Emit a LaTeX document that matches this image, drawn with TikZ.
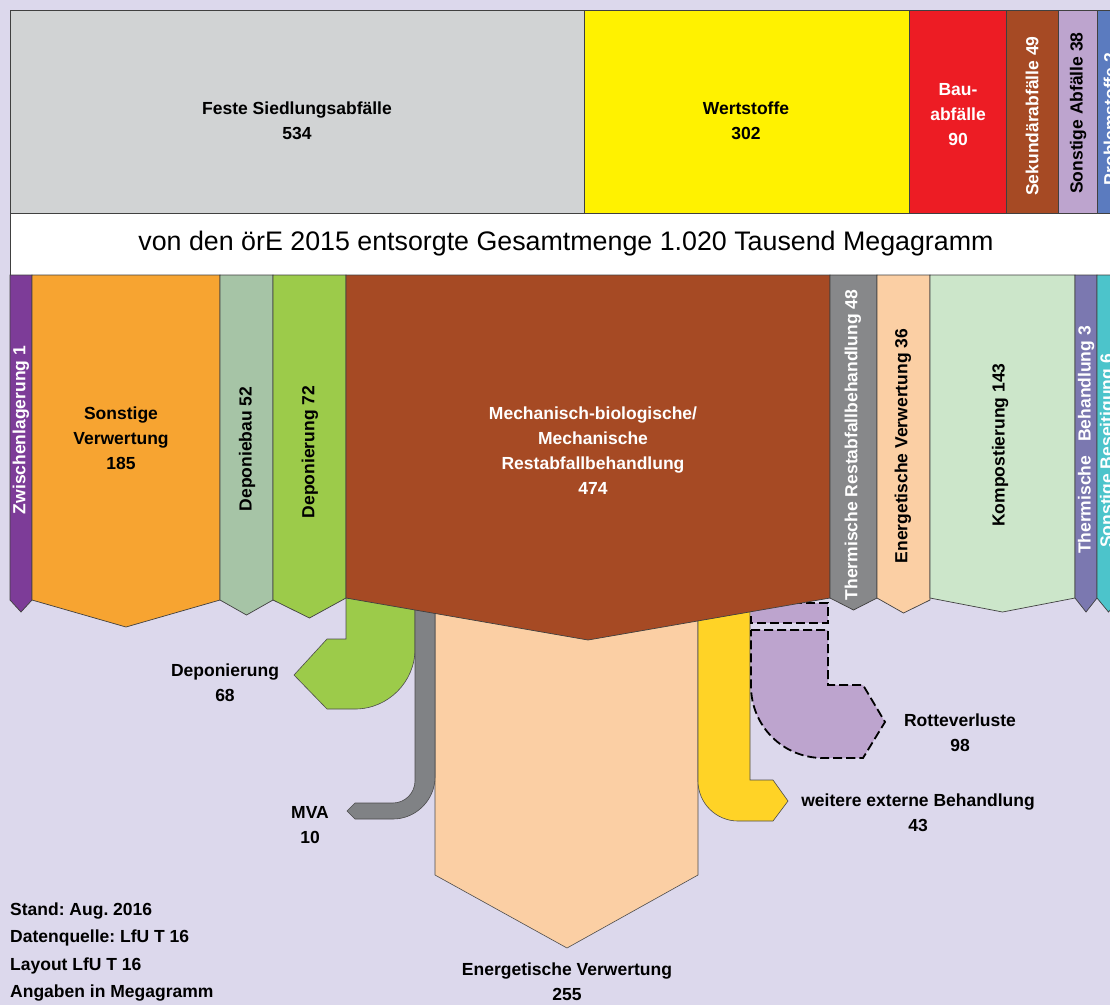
\documentclass[tikz,border=0pt]{standalone}
\usepackage{fontspec}
\setmainfont{Liberation Sans}
\usepackage{xcolor}
\usetikzlibrary{positioning}
\frenchspacing
\definecolor{hgrund}{RGB}{220,216,236}
\definecolor{grau}{RGB}{209,211,212}
\definecolor{gelb}{RGB}{255,242,0}
\definecolor{rot}{RGB}{237,28,36}
\definecolor{braun}{RGB}{166,74,36}
\definecolor{lila}{RGB}{189,164,206}
\definecolor{blau}{RGB}{91,123,191}
\definecolor{violett}{RGB}{125,60,152}
\definecolor{orng}{RGB}{247,164,49}
\definecolor{graugruen}{RGB}{166,196,166}
\definecolor{gruen}{RGB}{156,203,74}
\definecolor{dgrau}{RGB}{135,136,138}
\definecolor{pfirsich}{RGB}{251,207,164}
\definecolor{hgruen}{RGB}{204,230,202}
\definecolor{blaulila}{RGB}{123,120,176}
\definecolor{tuerkis}{RGB}{76,196,203}
\definecolor{mvagrau}{RGB}{128,130,133}
\definecolor{sgelb}{RGB}{255,211,38}
\tikzset{
  blk/.style  ={draw=black!75, line width=0.7pt},
  flow/.style ={draw=black!70, line width=0.6pt},
  rotte/.style={fill=lila, draw=black, line width=1.8pt, dash pattern=on 9pt off 4pt},
  lab/.style  ={font=\bfseries\fontsize{17.5}{25}\selectfont, align=center, inner sep=0pt},
  wlab/.style ={lab, text=white},
  vlab/.style ={lab, rotate=90},
  vwlab/.style={wlab, rotate=90},
}

\begin{document}
\begin{tikzpicture}[x=1pt, y=-1pt]
  \useasboundingbox (0,0) rectangle (1110,1005);
  \clip (0,0) rectangle (1110,1005);
  \fill[hgrund] (0,0) rectangle (1110,1005);

  % Herkunft der Abfaelle
  \draw[blk, fill=grau]  (10,10)   rectangle (584,213);
  \draw[blk, fill=gelb]  (584,10)  rectangle (909,213);
  \draw[blk, fill=rot]   (909,10)  rectangle (1006,213);
  \draw[blk, fill=braun] (1006,10) rectangle (1058,213);
  \draw[blk, fill=lila]  (1058,10) rectangle (1097,213);
  \draw[blk, fill=blau]  (1097,10) rectangle (1120,213);
  \node[lab]   (siedl) at (297,121)  {Feste Siedlungsabfälle\\534};
  \node[lab]   (wert)  at (746,121)  {Wertstoffe\\302};
  \node[wlab]  (bau)   at (958,115)  {Bau-\\abfälle\\90};
  \node[vwlab] (sek)   at (1032,116) {Sekundärabfälle 49};
  \node[vlab]  (sonst) at (1078,113) {Sonstige Abfälle 38};
  \node[vwlab] (probl) at (1110,119) {Problemstoffe 2};

  \draw[blk, fill=white] (10,213) rectangle (1120,275);
  \node[font=\fontsize{26.8}{30}\selectfont] (ges) at (566,244)
    {von den örE 2015 entsorgte Gesamtmenge 1.020 Tausend Megagramm};

  % Stroeme aus der MBA
  \draw[flow, fill=pfirsich] (435,590) -- (698,590) -- (698,875) -- (567,948) -- (435,875) -- cycle;
  \draw[flow, fill=gruen] (346,590) -- (346,639) -- (327,639) -- (294,675) -- (327,709) -- (355,709)
    .. controls (388,709) and (415,682) .. (415,649) -- (415,590) -- cycle;
  \draw[flow, fill=mvagrau] (415,590) -- (415,781) .. controls (415,793) and (405,803) .. (393,803)
    -- (355,803) -- (347,811) -- (355,819) -- (393,819)
    .. controls (416,819) and (435,800) .. (435,777) -- (435,590) -- cycle;
  \draw[flow, fill=sgelb] (698,590) -- (750,590) -- (750,780) -- (773,780) -- (788,801) -- (773,821)
    -- (738,821) .. controls (716,821) and (698,803) .. (698,781) -- cycle;
  \draw[rotte] (751,603) rectangle (828,623);
  \draw[rotte] (751,630) -- (828,630) -- (828,685) -- (863,685) -- (885,722) -- (863,758) -- (823,758)
    .. controls (783,758) and (751,726) .. (751,686) -- cycle;

  % Entsorgungswege
  \foreach \xa/\xb/\yl/\yr/\yt/\col in {10/32/600/600/612/violett, 32/220/600/600/627/orng,
      220/273/600/600/615/graugruen, 273/346/600/598/618/gruen, 346/830/598/598/640/braun,
      830/877/598/598/610/dgrau, 877/930/598/600/613/pfirsich, 930/1075/598/598/612/hgruen,
      1075/1097/598/598/612/blaulila, 1097/1120/598/598/612/tuerkis}
    \draw[blk, fill=\col] (\xa,275) -- (\xb,275) -- (\xb,\yr) -- ({(\xa+\xb)/2},\yt) -- (\xa,\yl) -- cycle;

  \node[vwlab] (zwl)  at (21,430)   {Zwischenlagerung 1};
  \node[lab]   (sv)   at (121,438)  {Sonstige\\Verwertung\\185};
  \node[vlab]  (dpb)  at (247,449)  {Deponiebau 52};
  \node[vlab]  (dpn)  at (310,452)  {Deponierung 72};
  \node[wlab]  (mba)  at (593,451)  {Mechanisch-biologische/\\Mechanische\\Restabfallbehandlung\\474};
  \node[vwlab] (trb)  at (853,445)  {Thermische Restabfallbehandlung 48};
  \node[vwlab] (tb)   at (1086,440) {Thermische\hspace{14pt}Behandlung 3};
  \node[vlab]  (ev)   at (903,446)  {Energetische Verwertung 36};
  \node[vlab]  (komp) at (1000,445) {Kompostierung 143};
  \node[vwlab] (sb)   at (1108,451) {Sonstige Beseitigung 6};

  % Beschriftung der Stroeme
  \node[lab] (dep68)  at (225,683) {Deponierung\\68};
  \node[lab] (mva)    at (310,825) {MVA\\10};
  \node[lab] (ev255)  at (567,982) {Energetische Verwertung\\255};
  \node[lab] (rotv)   at (960,733) {Rotteverluste\\98};
  \node[lab] (ext)    at (918,813) {weitere externe Behandlung\\43};

  \node[lab, align=left, anchor=west, font=\bfseries\fontsize{17.5}{27.5}\selectfont] (stand) at (10,952)
    {Stand: Aug. 2016\\Datenquelle: LfU T 16\\Layout LfU T 16\\Angaben in Megagramm};
\end{tikzpicture}
\end{document}
